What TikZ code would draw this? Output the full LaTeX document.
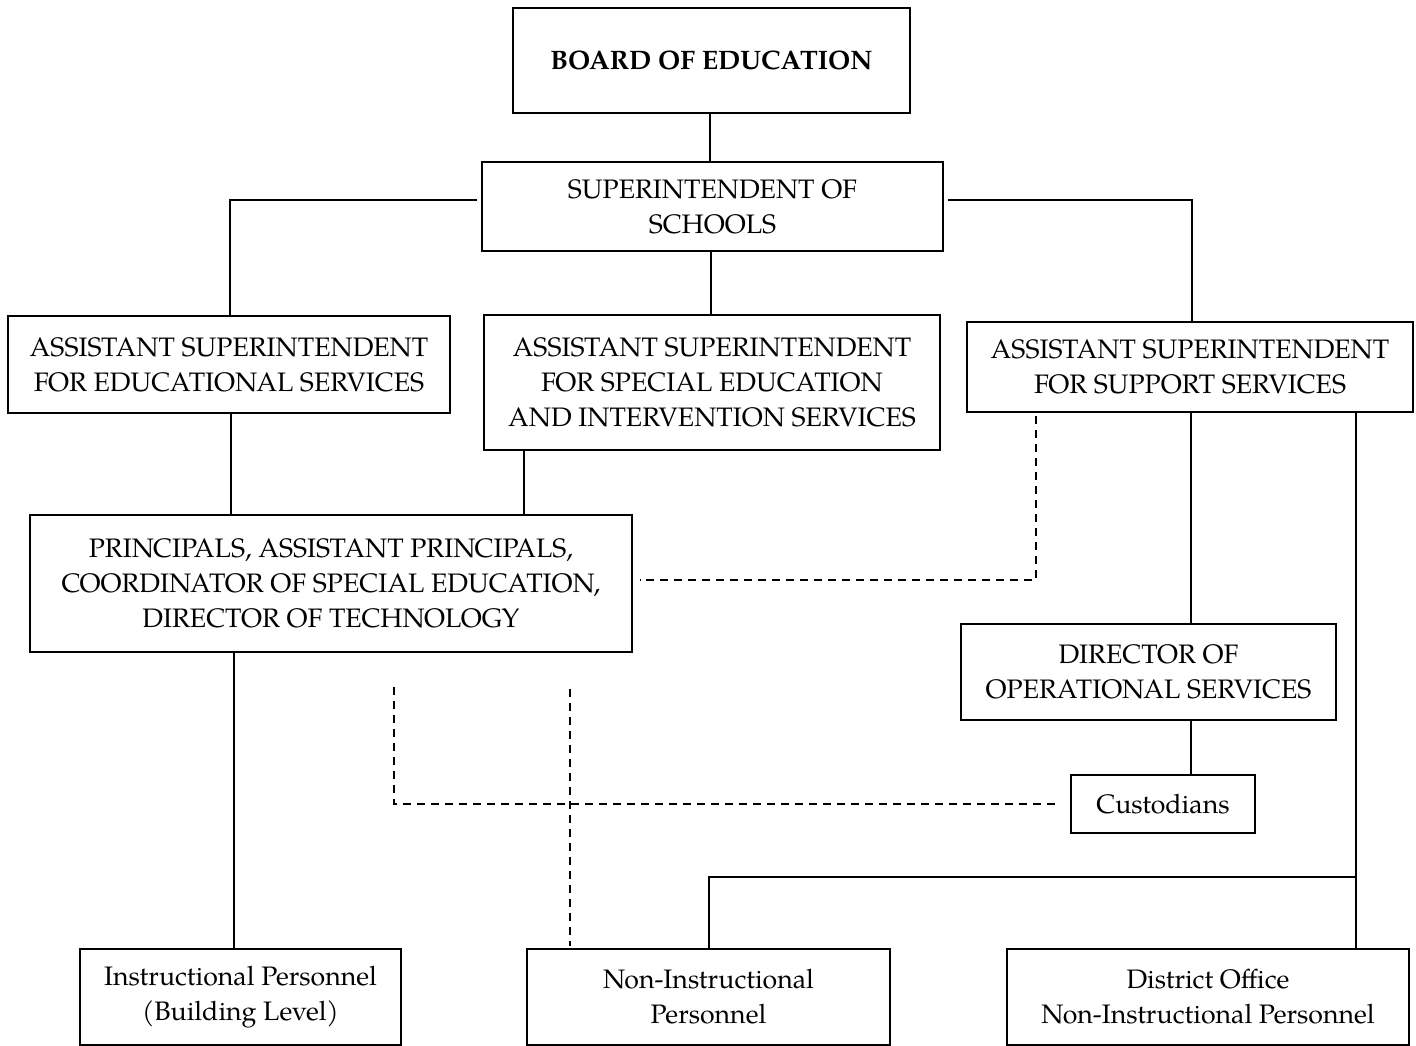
\documentclass[tikz,border=0pt]{standalone}
\usepackage{fontspec}
\setmainfont{TeX Gyre Pagella}
\usetikzlibrary{calc}
\begin{document}
\begin{tikzpicture}[x=1pt,y=-1pt,
  box/.style={draw, line width=1.8pt, align=center, inner sep=0pt,
    font=\fontsize{26.7}{35}\selectfont},
  conn/.style={line width=1.6pt},
  dconn/.style={line width=1.4pt, dash pattern=on 8pt off 6pt}]
\useasboundingbox (0,0) rectangle (1416,1046);
% boxes
\node[box, minimum width=397pt, minimum height=105pt, font=\fontsize{26.7}{35}\selectfont\bfseries] (board) at (711.5,60.5) {BOARD OF EDUCATION};
\node[box, minimum width=461pt, minimum height=89pt] (super) at (712.5,206.5) {SUPERINTENDENT OF\\SCHOOLS};
\node[box, minimum width=442pt, minimum height=97pt] (ased) at (229,364.5) {ASSISTANT SUPERINTENDENT\\FOR EDUCATIONAL SERVICES};
\node[box, minimum width=456pt, minimum height=135pt] (asspec) at (712,382.5) {ASSISTANT SUPERINTENDENT\\FOR SPECIAL EDUCATION\\AND INTERVENTION SERVICES};
\node[box, minimum width=446pt, minimum height=90pt] (assup) at (1190,367) {ASSISTANT SUPERINTENDENT\\FOR SUPPORT SERVICES};
\node[box, minimum width=602pt, minimum height=137pt] (princ) at (331,583.5) {PRINCIPALS, ASSISTANT PRINCIPALS,\\COORDINATOR OF SPECIAL EDUCATION,\\DIRECTOR OF TECHNOLOGY};
\node[box, minimum width=375pt, minimum height=96pt] (dir) at (1148.5,672) {DIRECTOR OF\\OPERATIONAL SERVICES};
\node[box, minimum width=184pt, minimum height=58pt] (cust) at (1163,804) {Custodians};
\node[box, minimum width=321pt, minimum height=96pt] (instr) at (240.5,997) {Instructional Personnel\\(Building Level)};
\node[box, minimum width=363pt, minimum height=96pt] (nonin) at (708.5,997) {Non-Instructional\\Personnel};
\node[box, minimum width=402pt, minimum height=96pt] (dist) at (1208,997) {District Office\\Non-Instructional Personnel};
% free ends
\coordinate (jn) at (1357,877);
\coordinate (d1) at (394,687);
\coordinate (d2) at (570,689);
% solid connectors
\draw[conn] ([xshift=-1.5pt]board.south) -- ([xshift=-1.5pt]board.south |- super.north);
\draw[conn] ([xshift=-4pt,yshift=6.5pt]super.west) -| ([xshift=1pt]ased.north);
\draw[conn] ([xshift=4pt,yshift=6.5pt]super.east) -| ([xshift=2pt]assup.north);
\draw[conn] ([xshift=-1.5pt]super.south) -- ([xshift=-1.5pt]super.south |- asspec.north);
\draw[conn] ([xshift=2pt]ased.south) -- ([xshift=2pt]ased.south |- princ.north);
\draw[conn] ([xshift=41pt]asspec.south west) -- ([xshift=41pt]asspec.south west |- princ.north);
\draw[conn] ([xshift=205pt]princ.south west) -- ([xshift=205pt]princ.south west |- instr.north);
\draw[conn] ([xshift=225pt]assup.south west) -- ([xshift=225pt]assup.south west |- dir.north);
\draw[conn] ([xshift=231pt]dir.south west) -- ([xshift=231pt]dir.south west |- cust.north);
\draw[conn] ([xshift=390pt]assup.south west) -- ([xshift=390pt]assup.south west |- dist.north);
\draw[conn] (jn) -| ([xshift=0.5pt]nonin.north);
% dashed connectors
\draw[dconn] ([xshift=70pt,yshift=-3pt]assup.south west) |- ([xshift=7pt,yshift=3.5pt]princ.east);
\draw[dconn] (d1) |- ([xshift=-10pt]cust.west);
\draw[dconn] (d2) -- ([yshift=2pt]d2 |- nonin.north);
\end{tikzpicture}
\end{document}
